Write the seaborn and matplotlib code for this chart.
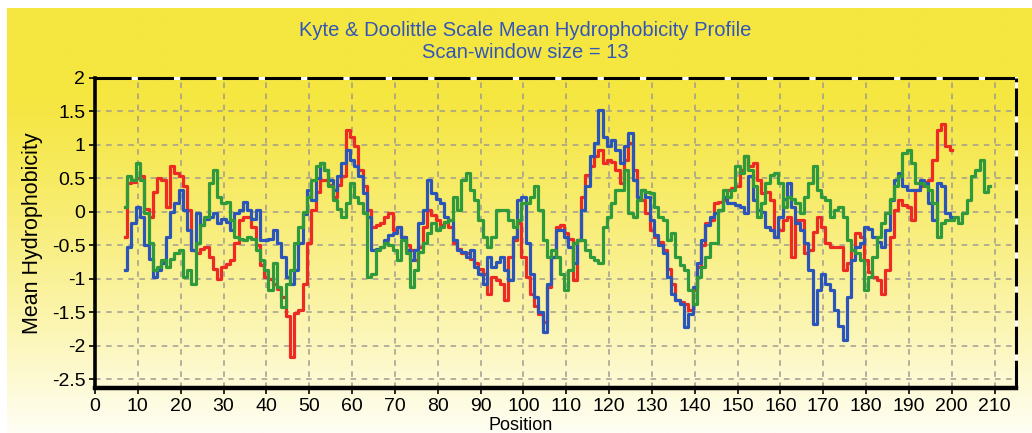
import numpy as np
import pandas as pd
import seaborn as sns
import matplotlib.pyplot as plt
from matplotlib.colors import to_rgb

plt.rcParams['lines.scale_dashes'] = False
plt.rcParams['font.family'] = ['Liberation Sans', 'DejaVu Sans']

# values, one per residue position
red_start = 7
red_val = [-0.37, 0.43, 0.45, 0.50, 0.53, 0.05, -0.07, 0.30, 0.50, 0.47,
           0.08, 0.68, 0.58, 0.53, 0.38, 0.03, -0.57, -0.62, -0.55, -0.52,
           -0.67, -0.85, -1.00, -0.82, -0.78, -0.72, -0.47, -0.12, -0.07, -0.07,
           -0.22, -0.50, -0.80, -0.97, -1.00, -1.07, -1.15, -1.27, -1.56, -2.16,
           -1.51, -1.46, -1.07, -0.47, 0.03, 0.30, 0.48, 0.48, 0.40, 0.23,
           0.40, 0.53, 1.22, 1.12, 0.98, 0.63, 0.38, 0.03, -0.22, -0.20,
           -0.17, -0.07, -0.02, -0.27, -0.22, -0.37, -0.50, -0.57, -0.72, -0.52,
           -0.22, 0.03, -0.05, -0.12, -0.20, -0.15, -0.22, -0.47, -0.55, -0.62,
           -0.62, -0.70, -0.77, -0.85, -0.92, -1.22, -0.97, -1.02, -1.07, -1.32,
           -0.67, -0.42, -0.17, -0.67, -0.97, -1.22, -1.40, -1.52, -1.65, -1.12,
           -0.67, -0.22, -0.20, -0.32, -0.40, -1.02, -0.42, 0.23, 0.55, 0.68,
           0.83, 0.93, 0.73, 0.78, 0.75, 0.63, 0.43, 0.78, 1.03, 0.63,
           0.23, 0.18, -0.02, -0.27, -0.37, -0.45, -0.57, -0.85, -1.07, -1.32,
           -1.35, -1.37, -1.47, -1.17, -0.82, -0.50, -0.17, -0.12, 0.13, 0.15,
           0.18, 0.33, 0.35, 0.38, 0.63, 0.83, 0.68, 0.73, 0.48, 0.28,
           0.30, 0.18, -0.37, -0.27, -0.12, -0.07, -0.67, -0.12, -0.12, -0.62,
           -0.57, -0.30, -0.07, -0.22, -0.47, -0.52, -0.52, -0.52, -0.87, -0.77,
           -0.57, -0.32, -0.37, -0.72, -0.90, -0.97, -1.02, -1.22, -0.87, -0.37,
           0.03, 0.18, 0.10, 0.08, -0.12, 0.33, 0.38, 0.45, 0.48, 0.78,
           1.22, 1.32, 0.98, 0.93]

blue_start = 7
blue_val = [-0.87, -0.52, -0.17, 0.08, -0.07, -0.50, -0.70, -0.97, -0.87, -0.77,
            -0.37, 0.00, 0.13, 0.33, 0.03, -0.27, -0.57, -0.02, -0.20, -0.10,
            -0.07, -0.02, -0.17, -0.10, -0.15, -0.27, -0.02, 0.03, 0.15, 0.03,
            -0.10, 0.03, -0.42, -0.42, -0.40, -0.27, -0.47, -0.67, -0.97, -1.07,
            -0.87, -0.47, -0.03, 0.33, 0.18, 0.50, 0.73, 0.63, 0.48, 0.33,
            0.53, 0.73, 0.93, 0.78, 0.68, 0.53, 0.28, -0.07, -0.57, -0.55,
            -0.52, -0.42, -0.35, -0.32, -0.22, -0.37, -0.57, -0.72, -0.57, -0.17,
            0.03, 0.48, 0.28, 0.20, 0.13, -0.07, -0.12, -0.42, -0.57, -0.60,
            -0.67, -0.57, -0.82, -0.92, -1.07, -0.67, -0.82, -0.75, -0.67, -0.87,
            -1.02, -0.37, 0.18, 0.23, -0.47, -0.92, -1.27, -1.50, -1.79, -1.07,
            -0.67, -0.27, -0.27, -0.37, -0.52, -0.77, -0.42, 0.03, 0.38, 0.83,
            1.03, 1.52, 1.12, 0.98, 1.08, 0.93, 0.73, 0.98, 1.18, 0.48,
            0.23, 0.33, 0.23, -0.12, -0.35, -0.50, -0.62, -0.97, -1.22, -1.32,
            -1.37, -1.72, -1.52, -1.12, -0.77, -0.42, -0.20, -0.07, -0.02, 0.03,
            0.23, 0.13, 0.13, 0.10, 0.08, -0.02, 0.53, 0.18, 0.03, 0.00,
            -0.22, -0.27, -0.37, -0.07, 0.20, 0.43, 0.08, -0.17, -0.27, -0.47,
            -0.87, -1.67, -1.17, -0.92, -1.07, -1.17, -1.47, -1.70, -1.92, -1.27,
            -0.72, -0.52, -0.47, -0.22, -0.25, -0.37, -0.45, -0.52, -0.27, 0.18,
            0.48, 0.58, 0.38, 0.33, 0.33, 0.33, 0.48, 0.43, 0.13, -0.12,
            0.43, 0.38, -0.02, -0.07]

green_start = 7
green_val = [0.08, 0.53, 0.48, 0.73, 0.48, -0.02, -0.47, -0.87, -0.82, -0.72,
             -0.82, -0.70, -0.62, -0.57, -0.97, -0.87, -1.07, -0.47, -0.20, -0.07,
             0.43, 0.63, 0.23, 0.13, 0.15, -0.12, -0.37, -0.40, -0.42, -0.37,
             -0.40, -0.57, -0.72, -0.87, -1.17, -0.77, -1.12, -1.42, -1.07, -0.87,
             -0.47, -0.22, 0.00, 0.23, 0.48, 0.68, 0.73, 0.63, 0.38, 0.18,
             0.05, -0.07, 0.13, 0.43, 0.23, 0.13, -0.02, -0.97, -0.92, -0.57,
             -0.52, -0.47, -0.50, -0.57, -0.72, -0.42, -0.62, -1.12, -0.87, -0.60,
             -0.47, -0.32, -0.17, -0.27, -0.22, -0.15, -0.12, 0.23, 0.03, 0.48,
             0.58, 0.33, 0.18, -0.12, -0.37, -0.52, -0.37, 0.03, 0.03, 0.03,
             -0.12, -0.22, -0.12, 0.13, 0.13, 0.23, 0.38, 0.03, -0.42, -0.67,
             -0.57, -0.67, -0.92, -1.17, -0.87, -0.47, -0.42, -0.42, -0.57, -0.67,
             -0.72, -0.77, -0.22, -0.07, 0.13, 0.33, 0.33, 0.63, -0.02, -0.07,
             0.18, 0.33, 0.30, 0.28, 0.08, -0.07, -0.12, -0.42, -0.32, -0.67,
             -0.80, -0.87, -1.17, -1.37, -0.97, -0.82, -0.67, -0.47, -0.47, 0.03,
             0.33, 0.23, 0.33, 0.68, 0.58, 0.83, 0.63, 0.38, -0.07, 0.13,
             0.43, 0.55, 0.58, 0.43, 0.08, 0.23, 0.20, 0.13, -0.02, 0.23,
             0.43, 0.68, 0.33, 0.23, 0.18, -0.07, 0.03, 0.08, -0.07, -0.42,
             -0.57, -0.62, -0.72, -1.17, -0.97, -0.67, -0.37, -0.17, -0.02, 0.20,
             0.38, 0.53, 0.88, 0.93, 0.73, 0.43, 0.43, 0.38, 0.33, 0.13,
             -0.37, -0.17, -0.12, -0.12, -0.07, -0.17, -0.02, 0.18, 0.53, 0.63,
             0.78, 0.30, 0.38]

series_names = ["red", "blue", "green"]
line_colors = ["#EE2A24", "#2B55B8", "#2E9A3C"]

frames = []
for name, start, vals in [("red", red_start, red_val),
                          ("blue", blue_start, blue_val),
                          ("green", green_start, green_val)]:
    frames.append(pd.DataFrame({"Position": np.arange(start, start + len(vals)),
                                "Mean Hydrophobicity": vals,
                                "series": name}))
df = pd.concat(frames, ignore_index=True)

W, H = 1032, 433
fig = plt.figure(figsize=(W / 100, H / 100), dpi=100)
fig.patch.set_facecolor("white")

# yellow -> white gradient panel behind everything
bg = fig.add_axes([7 / W, 0, 1 - 7 / W, 1 - 8 / H], zorder=-5)
t = np.linspace(0, 1, 300)[:, None]
f = np.clip((t - 0.2) / 0.8, 0, 1) ** 1.2
yel = np.array(to_rgb("#F5E640"))
wht = np.array(to_rgb("#FFFEF4"))
grad = yel[None, None, :] * (1 - f[..., None]) + wht[None, None, :] * f[..., None]
grad = np.repeat(grad, 2, axis=1)
bg.imshow(grad, aspect="auto", extent=[0, 1, 0, 1])
bg.axis("off")

ax = fig.add_axes([95 / W, 1 - 388 / H, (1016 - 95) / W, (388 - 78) / H])
ax.patch.set_alpha(0)

sns.lineplot(data=df, x="Position", y="Mean Hydrophobicity", hue="series",
             hue_order=series_names, palette=line_colors, estimator=None,
             drawstyle="steps-mid", linewidth=2.3, legend=False, ax=ax)

ax.set_xlim(0, 215)
ax.set_ylim(-2.63, 2.0)
ax.set_xticks(np.arange(0, 211, 10))
ax.set_yticks(np.arange(-2.5, 2.01, 0.5))
ax.set_yticklabels(["-2.5", "-2", "-1.5", "-1", "-0.5", "0", "0.5", "1", "1.5", "2"])
ax.grid(True, color="#A09C90", linestyle=(0, (4, 4)), linewidth=1.1)
ax.set_axisbelow(True)
ax.tick_params(labelsize=14, length=4, width=1.2, colors="black", pad=3)
ax.set_xlabel("")
ax.set_ylabel("Mean Hydrophobicity", fontsize=15.5, labelpad=6)

for s in ["top", "right"]:
    ax.spines[s].set_visible(False)
ax.spines["left"].set_linewidth(2.6)
ax.spines["bottom"].set_linewidth(3.2)
ax.spines["left"].set_color("black")
ax.spines["bottom"].set_color("black")

# dashed top and right frame
ax.plot([0, 1], [1, 1], transform=ax.transAxes, color="white", lw=2.2, clip_on=False)
ax.plot([0, 1], [1, 1], transform=ax.transAxes, color="black", lw=2.2,
        dashes=(26, 4.5), clip_on=False)
ax.plot([1, 1], [0, 1], transform=ax.transAxes, color="white", lw=2.2, clip_on=False)
ax.plot([1, 1], [0, 1], transform=ax.transAxes, color="black", lw=2.2,
        dashes=(20, 4.5), clip_on=False)

fig.text(525 / W, 1 - 30 / H, "Kyte & Doolittle Scale Mean Hydrophobicity Profile",
         ha="center", va="center", color="#3256B8", fontsize=14.5)
fig.text(525 / W, 1 - 53 / H, "Scan-window size = 13",
         ha="center", va="center", color="#3256B8", fontsize=14.5)
fig.text(521 / W, 1 - 425 / H, "Position", ha="center", va="center", fontsize=13)

fig.savefig("out.png", dpi=100)
